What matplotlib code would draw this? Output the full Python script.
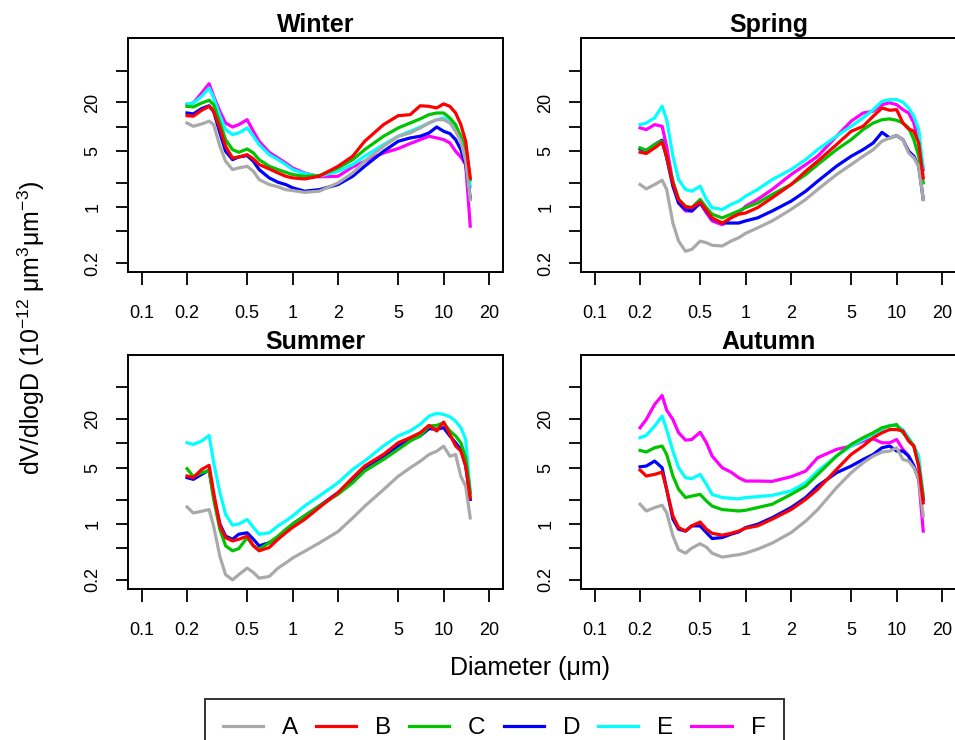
import matplotlib
matplotlib.use("Agg")
import matplotlib.pyplot as plt
from matplotlib.lines import Line2D
from matplotlib.ticker import FixedLocator, FixedFormatter, NullLocator

plt.rcParams["font.family"] = ["Liberation Sans", "DejaVu Sans"]
plt.rcParams["mathtext.default"] = "regular"

# particle diameter bins (um)
diameter = [0.2, 0.22, 0.25, 0.28, 0.3, 0.33, 0.36, 0.4, 0.44, 0.5, 0.55, 0.6, 0.7, 0.8, 0.9, 1.0,
            1.2, 1.5, 2.0, 2.5, 3.0, 4.0, 5.0, 6.0, 7.0, 8.0, 9.0, 10.0, 11.0, 12.0, 13.0, 14.0, 15.0]

# dV/dlogD, winter
winter_a = [11.1, 10.1, 10.8, 11.7, 10.6, 5.70, 3.70, 2.92, 3.06, 3.21, 2.78, 2.19, 1.90, 1.78, 1.64, 1.60,
            1.52, 1.57, 1.99, 2.65, 3.70, 5.70, 7.59, 8.35, 9.63, 11.1, 12.2, 12.2, 11.1, 8.75, 6.57, 3.70, 1.23]
winter_b = [13.7, 13.5, 16.0, 17.9, 15.5, 9.63, 5.70, 4.07, 4.19, 4.48, 3.96, 3.37, 2.98, 2.65, 2.41, 2.30,
            2.23, 2.41, 3.21, 4.28, 6.57, 10.6, 13.7, 14.1, 18.2, 17.9, 17.1, 19.2, 17.9, 14.8, 10.6, 6.57, 2.30]
winter_c = [17.9, 17.6, 19.7, 21.3, 18.8, 11.1, 6.89, 5.17, 4.79, 5.27, 4.70, 3.88, 3.21, 2.92, 2.70, 2.53,
            2.41, 2.46, 3.06, 3.88, 5.17, 7.59, 9.63, 11.1, 12.5, 14.1, 14.8, 14.8, 12.8, 10.6, 7.59, 5.17, 2.19]
winter_d = [14.8, 14.4, 16.8, 18.2, 15.5, 8.35, 4.93, 3.88, 4.19, 4.36, 3.70, 2.92, 2.30, 2.03, 1.90, 1.73,
            1.57, 1.64, 1.90, 2.41, 3.21, 4.93, 6.57, 7.23, 7.59, 8.35, 9.9, 8.75, 8.2, 6.89, 5.17, 3.37, 1.30]
winter_e = [19.2, 19.7, 23.9, 30.3, 22.8, 13.5, 9.18, 7.96, 8.35, 9.63, 7.59, 5.97, 4.48, 3.88, 3.37, 2.92,
            2.60, 2.41, 2.78, 3.37, 4.28, 5.97, 7.59, 8.75, 9.9, 11.1, 12.2, 12.8, 11.7, 9.63, 7.23, 4.70, 1.81]
winter_f = [18.8, 19.7, 26.3, 34.3, 23.9, 15.5, 11.1, 9.9, 10.6, 12.2, 8.75, 6.57, 4.79, 4.07, 3.53, 3.06,
            2.65, 2.37, 2.41, 3.15, 3.70, 4.70, 5.33, 6.15, 6.89, 7.59, 7.23, 6.89, 6.27, 4.93, 4.19, 3.37, 0.577]

# spring
spring_a = [1.90, 1.68, 1.90, 2.15, 1.65, 0.63, 0.375, 0.28, 0.296, 0.375, 0.358, 0.333, 0.326, 0.375, 0.413, 0.469,
            0.548, 0.67, 0.93, 1.24, 1.65, 2.53, 3.37, 4.28, 5.18, 6.6, 7.23, 7.73, 6.89, 4.71, 4.08, 3.22, 1.24]
spring_b = [4.8, 4.63, 5.44, 6.38, 4.28, 1.99, 1.24, 1.0, 0.98, 1.15, 0.91, 0.73, 0.63, 0.73, 0.81, 0.84,
            0.98, 1.30, 1.90, 2.78, 3.71, 5.98, 8.75, 10.1, 13.5, 17.1, 16.0, 16.3, 11.1, 9.37, 8.75, 6.27, 2.30]
spring_c = [5.44, 5.08, 5.98, 6.6, 4.28, 2.09, 1.24, 1.02, 0.98, 1.24, 0.98, 0.81, 0.73, 0.81, 0.89, 0.98,
            1.12, 1.43, 1.90, 2.53, 3.37, 5.18, 6.89, 9.2, 11.1, 12.2, 12.5, 12.0, 11.1, 9.65, 6.89, 4.28, 1.99]
spring_d = [5.28, 5.03, 5.98, 6.78, 4.08, 1.81, 1.12, 0.93, 0.89, 1.12, 0.89, 0.71, 0.63, 0.63, 0.63, 0.67,
            0.73, 0.89, 1.18, 1.57, 2.09, 3.22, 4.28, 5.18, 6.27, 8.5, 7.23, 7.73, 6.89, 4.94, 4.28, 3.22, 1.24]
spring_e = [10.6, 11.1, 12.9, 18.0, 12.2, 4.28, 2.19, 1.65, 1.57, 1.81, 1.24, 0.98, 0.93, 1.07, 1.18, 1.36,
            1.65, 2.19, 2.92, 3.89, 5.18, 7.62, 10.1, 12.9, 16.3, 20.7, 21.7, 21.7, 20.2, 17.1, 13.5, 9.2, 3.07]
spring_f = [9.65, 9.2, 10.6, 10.1, 5.7, 1.99, 1.12, 0.89, 0.89, 1.12, 0.84, 0.67, 0.60, 0.73, 0.84, 1.02,
            1.24, 1.65, 2.53, 3.37, 4.28, 7.6, 11.7, 14.8, 15.6, 18.8, 19.8, 18.8, 16.3, 14.8, 11.1, 6.27, 2.92]

# summer (no F curve in this season)
summer_a = [1.62, 1.36, 1.43, 1.50, 0.93, 0.39, 0.232, 0.20, 0.232, 0.28, 0.247, 0.21, 0.22, 0.28, 0.324, 0.374,
            0.453, 0.575, 0.80, 1.18, 1.65, 2.66, 3.90, 4.96, 6.01, 7.28, 8.0, 9.25, 6.93, 7.28, 3.90, 2.93, 1.18]
summer_b = [3.93, 3.75, 4.75, 5.34, 2.44, 0.94, 0.67, 0.61, 0.64, 0.70, 0.53, 0.46, 0.505, 0.64, 0.77, 0.90,
            1.13, 1.59, 2.44, 3.75, 5.24, 7.31, 10.2, 11.8, 13.6, 16.8, 14.3, 18.5, 13.0, 9.32, 8.07, 5.24, 2.11]
summer_c = [4.85, 3.86, 4.33, 4.53, 2.01, 0.85, 0.53, 0.46, 0.49, 0.67, 0.53, 0.48, 0.58, 0.70, 0.85, 0.99,
            1.25, 1.66, 2.33, 3.24, 4.53, 6.33, 8.42, 10.7, 12.4, 16.5, 16.8, 18.1, 14.3, 12.4, 10.2, 6.64, 2.44]
summer_d = [3.75, 3.57, 4.12, 4.66, 2.21, 0.99, 0.70, 0.64, 0.74, 0.77, 0.64, 0.53, 0.58, 0.67, 0.81, 0.99,
            1.25, 1.66, 2.44, 3.57, 4.99, 6.97, 9.32, 11.2, 12.4, 15.3, 15.0, 15.7, 12.4, 10.2, 8.42, 5.24, 2.01]
summer_e = [10.2, 9.73, 10.7, 12.6, 5.76, 2.44, 1.31, 0.96, 0.99, 1.13, 0.90, 0.74, 0.77, 0.94, 1.08, 1.25,
            1.66, 2.21, 3.24, 4.75, 6.04, 9.32, 12.4, 14.3, 17.3, 21.9, 23.7, 23.0, 21.5, 19.0, 15.7, 11.2, 2.44]
summer_f = None

# autumn
autumn_a = [1.75, 1.44, 1.59, 1.70, 1.37, 0.706, 0.474, 0.43, 0.497, 0.563, 0.511, 0.43, 0.384, 0.399, 0.411, 0.43,
            0.482, 0.574, 0.775, 1.08, 1.50, 2.81, 4.32, 5.75, 6.97, 7.81, 8.04, 8.84, 6.32, 6.03, 4.98, 3.57, 1.25]
autumn_b = [4.66, 3.93, 4.12, 4.40, 2.68, 1.25, 0.895, 0.81, 0.94, 1.05, 0.854, 0.76, 0.72, 0.76, 0.81, 0.88,
            0.94, 1.14, 1.50, 2.01, 2.68, 4.75, 7.30, 9.28, 11.8, 13.6, 14.9, 14.9, 14.3, 10.7, 9.28, 5.23, 1.82]
autumn_c = [8.19, 7.83, 8.84, 9.28, 7.30, 3.93, 2.68, 2.12, 2.21, 2.32, 1.92, 1.66, 1.50, 1.47, 1.44, 1.47,
            1.59, 1.75, 2.32, 2.95, 4.12, 6.97, 9.73, 11.8, 13.6, 15.7, 16.5, 17.2, 13.6, 11.2, 9.28, 5.23, 2.21]
autumn_d = [5.12, 5.23, 6.03, 4.98, 2.68, 1.14, 0.854, 0.81, 0.94, 0.94, 0.775, 0.654, 0.673, 0.74, 0.79, 0.895,
            0.985, 1.19, 1.59, 2.12, 2.95, 4.32, 5.23, 6.32, 7.30, 8.84, 9.28, 8.04, 8.04, 6.97, 5.23, 3.57, 2.01]
autumn_e = [11.8, 12.6, 16.5, 21.9, 14.9, 8.04, 4.98, 3.74, 3.64, 4.12, 3.09, 2.32, 2.12, 2.07, 2.04, 2.12,
            2.17, 2.26, 2.56, 3.24, 4.53, 6.97, 9.28, 11.2, 13.0, 14.9, 16.9, 16.5, 14.9, 11.8, 9.28, 6.97, 2.21]
autumn_f = [15.7, 19.9, 30.7, 39.6, 26.0, 19.9, 13.6, 11.0, 11.2, 13.8, 10.2, 6.97, 4.98, 4.40, 3.74, 3.40,
            3.40, 3.37, 3.85, 4.53, 6.64, 8.43, 9.28, 10.7, 11.4, 10.2, 10.2, 11.2, 8.43, 6.97, 5.23, 3.57, 0.81]

series_names = ["A", "B", "C", "D", "E", "F"]
colors = ["#A9A9A9", "#FF0000", "#00C400", "#0000FF", "#00FFFF", "#FF00FF"]

x_ticks = [0.1, 0.2, 0.5, 1, 2, 5, 10, 20]
x_tick_labels = ["0.1", "0.2", "0.5", "1", "2", "5", "10", "20"]
y_ticks = [0.2, 0.5, 1, 2, 5, 10, 20, 50]
y_tick_labels = ["0.2", "", "1", "", "5", "", "20", ""]

panels = [
    ("Winter", [winter_a, winter_b, winter_c, winter_d, winter_e, winter_f]),
    ("Spring", [spring_a, spring_b, spring_c, spring_d, spring_e, spring_f]),
    ("Summer", [summer_a, summer_b, summer_c, summer_d, summer_e, summer_f]),
    ("Autumn", [autumn_a, autumn_b, autumn_c, autumn_d, autumn_e, autumn_f]),
]

# drawing order (last on top)
draw_order = [5, 4, 3, 2, 0, 1]

W, H = 955, 740
fig = plt.figure(figsize=(W / 100, H / 100), dpi=100)

# panel boxes in pixels: left, top
box_w, box_h = 375.3, 234.0
corners = [(127.7, 37.7), (580.7, 37.7), (127.7, 354.5), (580.7, 354.5)]

for (title, data), (left, top) in zip(panels, corners):
    ax = fig.add_axes([left / W, 1 - (top + box_h) / H, box_w / W, box_h / H])
    for i in draw_order:
        if data[i] is None:
            continue
        ax.plot(diameter, data[i], color=colors[i], lw=2.3, solid_joinstyle="round")
    ax.set_xscale("log")
    ax.set_yscale("log")
    ax.set_xlim(0.1 / 10 ** 0.092, 20 * 10 ** 0.092)
    ax.set_ylim(0.2 / 10 ** 0.108, 100 * 10 ** 0.108)
    ax.xaxis.set_major_locator(FixedLocator(x_ticks))
    ax.xaxis.set_major_formatter(FixedFormatter(x_tick_labels))
    ax.yaxis.set_major_locator(FixedLocator(y_ticks))
    ax.yaxis.set_major_formatter(FixedFormatter(y_tick_labels))
    ax.xaxis.set_minor_locator(NullLocator())
    ax.yaxis.set_minor_locator(NullLocator())
    ax.tick_params(direction="out", length=9, width=1.3, labelsize=13, color="black")
    ax.tick_params(axis="x", pad=15)
    ax.tick_params(axis="y", pad=10, labelrotation=90)
    for lab in ax.get_yticklabels():
        lab.set_va("center")
    for sp in ax.spines.values():
        sp.set_linewidth(1.4)
    ax.set_title(title, fontsize=18, fontweight="bold", pad=4)

fig.text(530 / W, 1 - 675 / H, "Diameter (μm)", ha="center", va="baseline", fontsize=18)
fig.text(31 / W, 1 - 328 / H, "dV/dlogD (10$^{-12}$ μm$^{3}$μm$^{-3}$)",
         rotation=90, ha="center", va="center", fontsize=18)

handles = [Line2D([], [], color=c, lw=2.3) for c in colors]
leg = fig.legend(handles, series_names, loc="upper left", bbox_to_anchor=(204.6 / W, 1 - 699.2 / H),
                 ncol=6, frameon=True, fancybox=False, edgecolor="black", fontsize=17.5,
                 handlelength=1.65, handletextpad=0.78, columnspacing=0.74, borderpad=0.75,
                 borderaxespad=0)
leg.get_frame().set_linewidth(1.4)

fig.savefig("out.png", dpi=100)
